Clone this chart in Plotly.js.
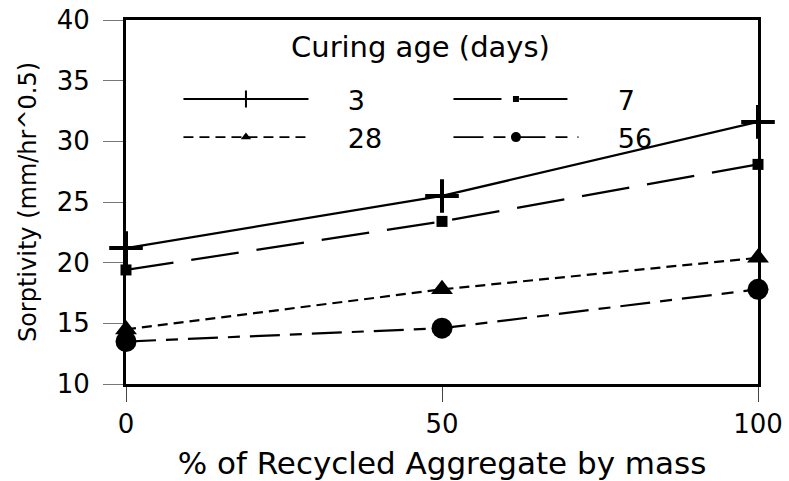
<!DOCTYPE html>
<html>
<head>
<meta charset="utf-8">
<script src="https://cdn.plot.ly/plotly-3.0.1.min.js"></script>
<style>
  html, body { margin: 0; padding: 0; background: #fff; }
  #chart { width: 789px; height: 481px; }
</style>
</head>
<body>
<div id="chart"></div>
<script>
// Sorptivity vs recycled aggregate content, one series per curing age
const recycledPct = [0, 50, 100];
const ageLabels = ['3', '7', '28', '56'];
const sorptivity3 = [21.2, 25.5, 31.6];
const sorptivity7 = [19.4, 23.4, 28.1];
const sorptivity28 = [14.5, 17.8, 20.4];
const sorptivity56 = [13.5, 14.6, 17.8];
const xTicks = [0, 50, 100];
const yTicks = [10, 15, 20, 25, 30, 35, 40];

const FONT = 'DejaVu Sans, Arial, sans-serif';
const seriesValues = [sorptivity3, sorptivity7, sorptivity28, sorptivity56];
const styles = [
  { dash: 'solid', symbol: 'cross-thin', size: 24, lw: 4, legSize: 12, legLw: 2 },
  { dash: '48px,18px', symbol: 'square', size: 11, lw: 0, legSize: 6, legLw: 0 },
  { dash: '10px,6px', symbol: 'triangle-up', size: 19, lw: 0, legSize: 9, legLw: 0 },
  { dash: '30px,10px,12px,10px', symbol: 'circle', size: 21, lw: 0, legSize: 10, legLw: 0 }
];

const traces = [];
seriesValues.forEach((vals, i) => {
  const s = styles[i];
  traces.push({
    x: recycledPct, y: vals, type: 'scatter', mode: 'lines+markers',
    name: ageLabels[i], showlegend: false, cliponaxis: false,
    line: { color: '#000', width: 2.2, dash: s.dash },
    marker: { symbol: s.symbol, size: s.size, color: '#000',
              line: { color: '#000', width: s.lw } }
  });
});
// legend entries with smaller sample markers
seriesValues.forEach((vals, i) => {
  const s = styles[i];
  traces.push({
    x: [null], y: [null], type: 'scatter', mode: 'lines+markers',
    name: '\u00a0\u00a0\u00a0\u00a0' + ageLabels[i], showlegend: true,
    line: { color: '#000', width: 1.8, dash: s.dash },
    marker: { symbol: s.symbol, size: s.legSize, color: '#000',
              line: { color: '#000', width: s.legLw } }
  });
});

const layout = {
  width: 789, height: 481,
  margin: { l: 126, r: 31, t: 20, b: 97 },
  paper_bgcolor: '#fff', plot_bgcolor: '#fff',
  font: { family: FONT, color: '#000' },
  showlegend: true,
  legend: {
    orientation: 'h', x: 0.083, xanchor: 'left', y: 0.849, yanchor: 'top',
    bgcolor: 'rgba(0,0,0,0)', itemwidth: 125, entrywidth: 130,
    font: { family: FONT, size: 27, color: '#000' }
  },
  annotations: [{
    text: 'Curing age (days)', xref: 'paper', yref: 'paper',
    x: 0.466, y: 0.926, xanchor: 'center', yanchor: 'middle', showarrow: false,
    font: { family: FONT, size: 29, color: '#000' }
  }],
  xaxis: {
    range: [0, 100], tickvals: xTicks, ticktext: xTicks.map(String),
    showgrid: false, zeroline: false,
    showline: true, linecolor: '#000', linewidth: 3, mirror: true,
    ticks: 'outside', ticklen: 15, tickwidth: 1, tickcolor: '#444',
    tickfont: { family: FONT, size: 26, color: '#000' },
    title: { text: '% of Recycled Aggregate by mass', standoff: 16,
             font: { family: FONT, size: 31, color: '#000' } }
  },
  yaxis: {
    range: [10, 40], tickvals: yTicks, ticktext: yTicks.map(String),
    showgrid: false, zeroline: false,
    showline: true, linecolor: '#000', linewidth: 3, mirror: true,
    ticks: 'outside', ticklen: 20, tickwidth: 1, tickcolor: '#777',
    ticklabelstandoff: 8,
    tickfont: { family: FONT, size: 26, color: '#000' },
    title: { text: 'Sorptivity (mm/hr^0.5)', standoff: 14,
             font: { family: FONT, size: 24, color: '#000' } }
  }
};

Plotly.newPlot('chart', traces, layout, { displayModeBar: false, staticPlot: true });
</script>
</body>
</html>
